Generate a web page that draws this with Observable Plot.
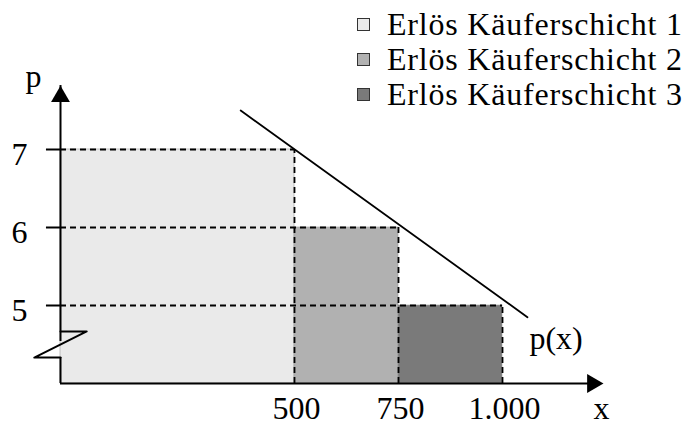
<!DOCTYPE html>
<html>
<head>
<meta charset="utf-8">
<script src="https://cdn.jsdelivr.net/npm/d3@7"></script>
<script src="https://cdn.jsdelivr.net/npm/@observablehq/plot@0.6"></script>
<style>
  html, body { margin: 0; padding: 0; background: #fff; }
  #wrap { position: relative; width: 688px; height: 427px; }
  #legend { position: absolute; left: 357px; top: 7px; font-family: "Liberation Serif", serif; font-size: 32px; color: #000; }
  .row { display: flex; align-items: center; height: 35px; line-height: 35px; letter-spacing: 0.8px; white-space: nowrap; }
  .sw { width: 11px; height: 11px; border: 1px solid #333; margin-right: 17px; }
</style>
</head>
<body>
<div id="wrap"><div id="legend"></div></div>
<script>
// ---- data ----
const categories = ["Erlös Käuferschicht 1", "Erlös Käuferschicht 2", "Erlös Käuferschicht 3"];
const xStart = [0, 500, 750];
const xEnd = [500, 750, 1000];
const prices = [7, 6, 5];
const colors = ["#eaeaea", "#b1b1b1", "#7a7a7a"];
const xTicks = [500, 750, 1000];
const xTickLabels = ["500", "750", "1.000"];
const yTicks = [5, 6, 7];
const demandX = [385, 1060];
const demandP = [7.5, 4.85];
const yAxisTop = 7.82;
const xAxisEnd = 1243;
const breakX = [0, 56, -56, 0];
const breakY = [4.667, 4.667, 4.333, 4.333];
const yBase = 4;

const segs = categories.map((c, i) => ({c, x1: xStart[i], x2: xEnd[i], p: prices[i], fill: colors[i]}));
const demand = demandX.map((x, i) => ({x, p: demandP[i]}));
const brk = breakX.map((x, i) => ({x, y: breakY[i]}));
const font = "Liberation Serif";

const chart = Plot.plot({
  width: 688,
  height: 427,
  x: {type: "linear", domain: [0, 500, 1000], range: [60, 294, 502], axis: null},
  y: {type: "linear", domain: [4, 8], range: [383, 71], axis: null},
  style: {fontFamily: font, background: "#fff"},
  marks: [
    Plot.rect(segs, {x1: "x1", x2: "x2", y1: yBase, y2: "p", fill: "fill", stroke: "#9a9a9a", strokeWidth: 0.6}),
    // dashed guides
    Plot.ruleY(segs, {y: "p", x1: 0, x2: "x2", stroke: "#000", strokeWidth: 1.8, strokeDasharray: "6,4"}),
    Plot.ruleX(segs, {x: "x2", y1: yBase, y2: "p", stroke: "#000", strokeWidth: 1.8, strokeDasharray: "6,4"}),
    // demand line
    Plot.line(demand, {x: "x", y: "p", stroke: "#000", strokeWidth: 1.8}),
    Plot.text(demand.slice(-1), {x: "x", y: "p", text: () => "p(x)", dx: 2, dy: 22, textAnchor: "start", fontSize: 32, fontFamily: font, letterSpacing: 0.5}),
    // y axis (broken)
    Plot.ruleX([0], {y1: yBase, y2: breakY[3], stroke: "#000", strokeWidth: 2}),
    Plot.ruleX([0], {y1: breakY[0], y2: yAxisTop, insetTop: 10, stroke: "#000", strokeWidth: 2}),
    Plot.line(brk, {x: "x", y: "y", stroke: "#000", strokeWidth: 2}),
    Plot.dot([0], {x: 0, y: yAxisTop, dy: 11, symbol: "triangle", r: 7, fill: "#000", stroke: null}),
    Plot.text(["p"], {x: 0, y: yAxisTop, text: d => d, dx: -27, dy: -9, fontSize: 32, fontFamily: font}),
    // y ticks
    Plot.ruleY(yTicks, {y: d => d, x1: -30, x2: 0, stroke: "#000", strokeWidth: 2}),
    Plot.text(yTicks, {x: 0, y: d => d, text: d => String(d), dx: -41, dy: 5, fontSize: 32, fontFamily: font}),
    // x axis
    Plot.ruleY([yBase], {x1: 0, x2: xAxisEnd, insetRight: 10, stroke: "#000", strokeWidth: 2}),
    Plot.dot([0], {x: xAxisEnd, y: yBase, dx: -11, symbol: "triangle", rotate: 90, r: 7, fill: "#000", stroke: null}),
    Plot.text(xTicks, {x: d => d, y: yBase, text: (d, i) => xTickLabels[i], dx: 2, dy: 25, fontSize: 32, fontFamily: font, letterSpacing: 0.8}),
    Plot.text(["x"], {x: xAxisEnd, y: yBase, text: d => d, dx: -2, dy: 25, fontSize: 32, fontFamily: font})
  ]
});
document.getElementById("wrap").prepend(chart);

const legend = document.getElementById("legend");
categories.forEach((c, i) => {
  const row = document.createElement("div");
  row.className = "row";
  const sw = document.createElement("span");
  sw.className = "sw";
  sw.style.background = colors[i];
  const t = document.createElement("span");
  t.textContent = c;
  row.append(sw, t);
  legend.append(row);
});
</script>
</body>
</html>
